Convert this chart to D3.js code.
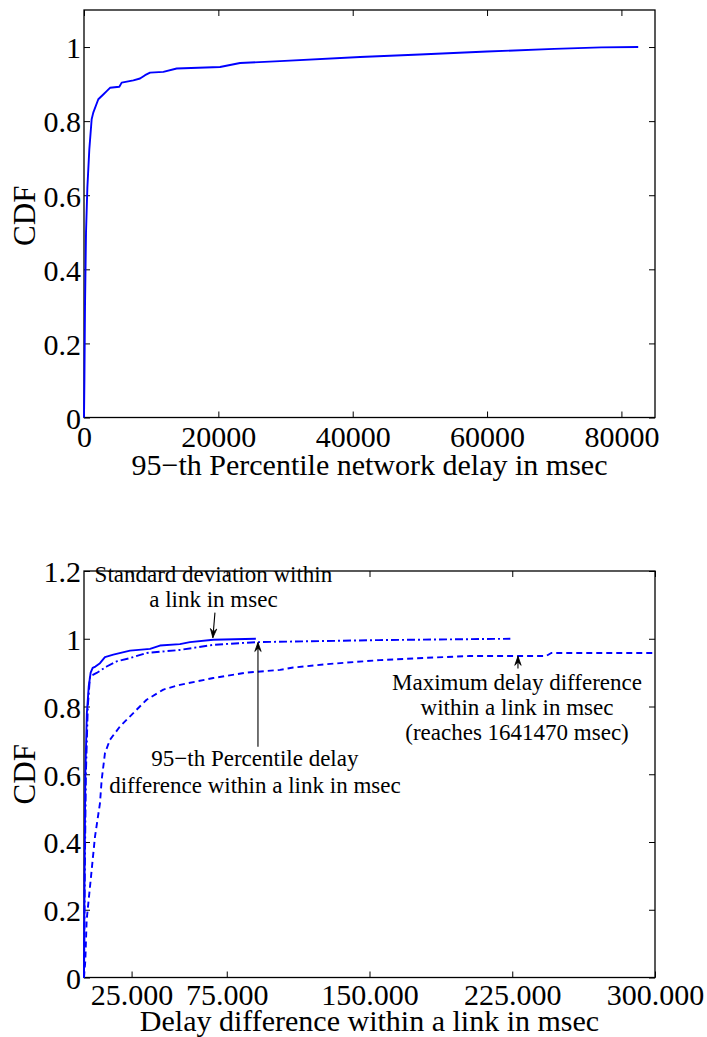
<!DOCTYPE html>
<html>
<head>
<meta charset="utf-8">
<script src="https://cdn.jsdelivr.net/npm/d3@7/dist/d3.min.js"></script>
<style>
  html, body { margin: 0; padding: 0; background: #fff; }
  svg { display: block; }
  text { font-family: "Liberation Serif", "Times New Roman", serif; fill: #000; }
</style>
</head>
<body>
<svg id="chart" width="707" height="1037"></svg>
<script>
// ---------- Data: top chart (95-th percentile network delay CDF) ----------
const topDelay = [0, 60, 150, 300, 500, 790, 1140, 1380, 2130, 2870, 3380, 3870, 5260, 5610, 7350, 8340, 9090, 9830, 11810, 13800, 20250, 23230, 29180, 41100, 50000, 60000, 70000, 77000, 82500];
const topCdf   = [0, 0.10, 0.30, 0.50, 0.62, 0.723, 0.805, 0.823, 0.859, 0.872, 0.881, 0.890, 0.893, 0.904, 0.910, 0.915, 0.924, 0.931, 0.933, 0.942, 0.946, 0.957, 0.962, 0.973, 0.980, 0.988, 0.995, 0.999, 1.0];
const topXTicks = [0, 20000, 40000, 60000, 80000];
const topXTickLabels = ["0", "20000", "40000", "60000", "80000"];
const topYTicks = [0, 0.2, 0.4, 0.6, 0.8, 1];
const topYTickLabels = ["0", "0.2", "0.4", "0.6", "0.8", "1"];
const topXTitle = "95\u2212th Percentile network delay in msec";
const yTitle = "CDF";

// ---------- Data: bottom chart (delay difference within a link) ----------
const stdDelay = [0, 300, 700, 1500, 2500, 3500, 4550, 6000, 8400, 11000, 15400, 24200, 34700, 39900, 50400, 55650, 67900, 90300];
const stdCdf   = [0, 0.30, 0.60, 0.78, 0.86, 0.90, 0.914, 0.918, 0.928, 0.946, 0.953, 0.965, 0.970, 0.980, 0.984, 0.990, 0.997, 1.0];

const p95Delay = [0, 400, 1000, 2000, 3150, 6650, 11900, 17100, 24200, 32900, 50400, 67900, 90600, 155000, 224000];
const p95Cdf   = [0, 0.30, 0.60, 0.80, 0.889, 0.899, 0.918, 0.933, 0.943, 0.958, 0.967, 0.982, 0.990, 0.996, 1.0];

const maxDelay = [0, 700, 1400, 3150, 5780, 8400, 9280, 11000, 13650, 18900, 24200, 32900, 41700, 50400, 67900, 85400, 103000, 109900, 127400, 155400, 185000, 202700, 242800, 245500, 300000];
const maxCdf   = [0, 0.05, 0.17, 0.268, 0.416, 0.515, 0.583, 0.662, 0.702, 0.741, 0.771, 0.820, 0.850, 0.864, 0.884, 0.900, 0.908, 0.915, 0.925, 0.937, 0.945, 0.949, 0.949, 0.958, 0.958];

const botXTicks = [25000, 75000, 150000, 225000, 300000];
const botXTickLabels = ["25.000", "75.000", "150.000", "225.000", "300.000"];
const botYTicks = [0, 0.2, 0.4, 0.6, 0.8, 1, 1.2];
const botYTickLabels = ["0", "0.2", "0.4", "0.6", "0.8", "1", "1.2"];
const botXTitle = "Delay difference within a link in msec";

// annotation texts
const annStdLines = ["Standard deviation within", "a link in msec"];
const annP95Lines = ["95\u2212th Percentile delay", "difference within a link in msec"];
const annMaxLines = ["Maximum delay difference", "within a link in msec", "(reaches 1641470 msec)"];

// ---------- Drawing ----------
const svg = d3.select("#chart");
svg.append("rect").attr("width", 707).attr("height", 1037).attr("fill", "#fff");

const BLUE = "#0000ff";
const TICK = 6;

function drawFrame(g, x, y, xTicks, xLabels, yTicks, yLabels, xLabelBase, clipId) {
  const [x0, x1] = x.range();
  const [y1, y0] = y.range();
  const ax = d3.axisBottom(x).tickValues(xTicks).tickFormat((d, i) => xLabels[i])
    .tickSizeInner(-TICK).tickSizeOuter(0).tickPadding(0);
  const gx = g.append("g").attr("transform", `translate(0,${y1})`).call(ax);
  gx.selectAll("text").attr("y", xLabelBase).attr("dy", null)
    .style("font-size", "30px").style("font-family", "'Liberation Serif', serif");
  const ay = d3.axisLeft(y).tickValues(yTicks).tickFormat((d, i) => yLabels[i])
    .tickSizeInner(-TICK).tickSizeOuter(0).tickPadding(3);
  const gy = g.append("g").attr("transform", `translate(${x0},0)`).call(ay);
  gy.selectAll("text").attr("dy", "0.36em")
    .style("font-size", "30px").style("font-family", "'Liberation Serif', serif");
  g.append("g").attr("transform", `translate(0,${y0})`)
    .call(d3.axisTop(x).tickValues(xTicks).tickFormat("").tickSizeInner(-TICK).tickSizeOuter(0));
  g.append("g").attr("transform", `translate(${x1},0)`)
    .call(d3.axisRight(y).tickValues(yTicks).tickFormat("").tickSizeInner(-TICK).tickSizeOuter(0));
  g.selectAll(".domain").remove();
  g.selectAll(".tick line").attr("stroke", "#000").attr("stroke-width", 1);
  g.append("rect").attr("x", x0).attr("y", y0).attr("width", x1 - x0).attr("height", y1 - y0)
    .attr("fill", "none").attr("stroke", "#000").attr("stroke-width", 1.3);
  g.append("clipPath").attr("id", clipId).append("rect")
    .attr("x", x0 - 1).attr("y", y0 - 1).attr("width", x1 - x0 + 2).attr("height", y1 - y0 + 2);
}

function drawSeries(g, x, y, xs, ys, dash, clipId) {
  const pts = xs.map((v, i) => [v, ys[i]]);
  const line = d3.line().x(d => x(d[0])).y(d => y(d[1]));
  g.append("path").datum(pts).attr("d", line)
    .attr("fill", "none").attr("stroke", BLUE).attr("stroke-width", 1.9)
    .attr("stroke-linejoin", "round")
    .attr("stroke-dasharray", dash || null)
    .attr("clip-path", `url(#${clipId})`);
}

function arrow(g, x1, y1, x2, y2) {
  g.append("line").attr("x1", x1).attr("y1", y1).attr("x2", x2).attr("y2", y2)
    .attr("stroke", "#000").attr("stroke-width", 1.1);
  const ang = Math.atan2(y2 - y1, x2 - x1);
  const L = 9, W = 3.2;
  const bx = x2 - L * Math.cos(ang), by = y2 - L * Math.sin(ang);
  const nx = -Math.sin(ang), ny = Math.cos(ang);
  const mx = x2 - 0.65 * L * Math.cos(ang), my = y2 - 0.65 * L * Math.sin(ang);
  g.append("path")
    .attr("d", `M${x2},${y2}L${bx + nx * W},${by + ny * W}L${mx},${my}L${bx - nx * W},${by - ny * W}Z`)
    .attr("fill", "#000").attr("stroke", "#000").attr("stroke-width", 0.8).attr("stroke-linejoin", "miter");
}

function textBlock(g, cx, baseY, lines, size, gap) {
  lines.forEach((t, i) => {
    g.append("text").attr("x", cx).attr("y", baseY + i * gap)
      .attr("text-anchor", "middle").style("font-size", size + "px").text(t);
  });
}

// ----- Top chart -----
const gTop = svg.append("g");
const xT = d3.scaleLinear().domain([0, 85000]).range([84, 655]);
const yT = d3.scaleLinear().domain([0, 1.1]).range([417.5, 10]);
drawFrame(gTop, xT, yT, topXTicks, topXTickLabels, topYTicks, topYTickLabels, 29.5, "clipTop");
drawSeries(gTop, xT, yT, topDelay, topCdf, null, "clipTop");
gTop.append("text").attr("x", (84 + 655) / 2).attr("y", 475).attr("text-anchor", "middle")
  .style("font-size", "30px").text(topXTitle);
gTop.append("text").attr("transform", `translate(35,${(10 + 417.5) / 2 + 2}) rotate(-90)`)
  .attr("text-anchor", "middle").style("font-size", "31px").text(yTitle);

// ----- Bottom chart -----
const gBot = svg.append("g");
const xB = d3.scaleLinear().domain([0, 300000]).range([84, 655]);
const yB = d3.scaleLinear().domain([0, 1.2]).range([977.5, 571]);
drawFrame(gBot, xB, yB, botXTicks, botXTickLabels, botYTicks, botYTickLabels, 27.5, "clipBot");
drawSeries(gBot, xB, yB, maxDelay, maxCdf, "6,4", "clipBot");
drawSeries(gBot, xB, yB, p95Delay, p95Cdf, "8,3,2,3", "clipBot");
drawSeries(gBot, xB, yB, stdDelay, stdCdf, null, "clipBot");
gBot.append("text").attr("x", (84 + 655) / 2).attr("y", 1031).attr("text-anchor", "middle")
  .style("font-size", "30px").text(botXTitle);
gBot.append("text").attr("transform", `translate(35,${(571 + 977.5) / 2}) rotate(-90)`)
  .attr("text-anchor", "middle").style("font-size", "31px").text(yTitle);

// annotations (anchored in data coordinates)
const annG = gBot.append("g");
textBlock(annG, xB(68000), yB(1.169), annStdLines, 23, 25);
arrow(annG, xB(68800), yB(1.077), xB(67700), yB(1.003));
textBlock(annG, xB(89800), yB(0.623), annP95Lines, 23, 26.5);
arrow(annG, xB(91400), yB(0.681), xB(91400), yB(0.989));
textBlock(annG, xB(227500), yB(0.849), annMaxLines, 23, 25);
arrow(annG, xB(228000), yB(0.912), xB(228000), yB(0.948));
</script>
</body>
</html>
